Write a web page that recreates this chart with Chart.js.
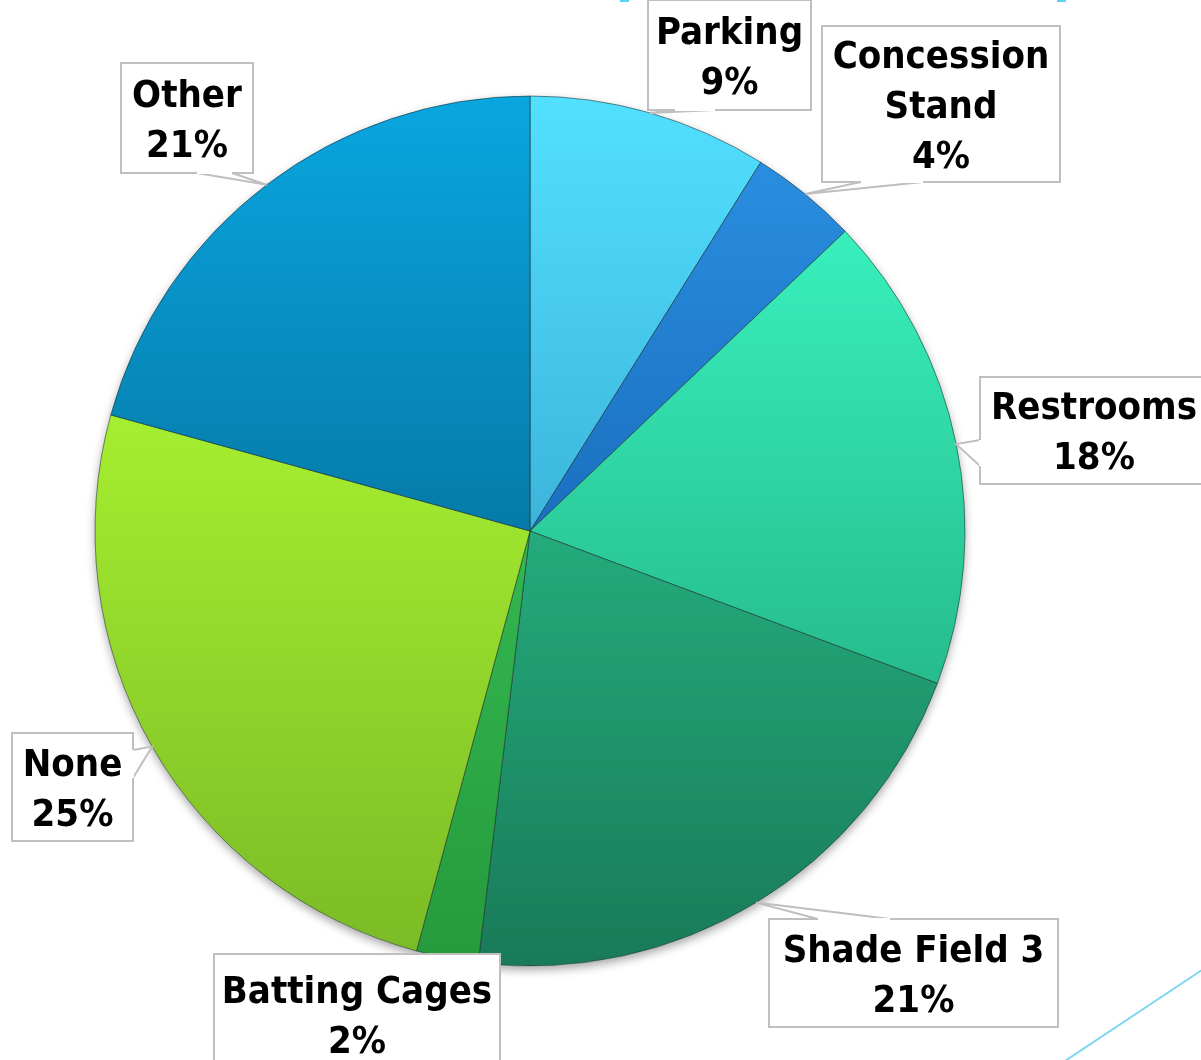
<!DOCTYPE html>
<html>
<head>
<meta charset="utf-8">
<script src="https://cdn.jsdelivr.net/npm/chart.js@4.4.1/dist/chart.umd.min.js"></script>
<style>
  html, body { margin: 0; padding: 0; background: #fff; }
  #wrap { width: 1201px; height: 1060px; position: relative; }
</style>
</head>
<body>
<div id="wrap"><canvas id="pieChart" width="1201" height="1060"></canvas></div>
<script>
// datos (porcentaje de respuestas)
const categories = ['Parking', 'Concession Stand', 'Restrooms', 'Shade Field 3', 'Batting Cages', 'None', 'Other'];
const shares = [8.9, 4.0, 17.8, 21.2, 2.3, 25.1, 20.7];

// colores claro (arriba) / oscuro (abajo) de cada porción
const topColors = ['#52e0ff', '#2a8ee0', '#38f0bc', '#24ab7c', '#34b850', '#a6ee30', '#0aa6e0'];
const bottomColors = ['#3cb4dc', '#1a6fbf', '#26bc8c', '#197a58', '#259a3c', '#7bbb26', '#057aa8'];

// cajas de etiquetas: [x, y, w, h], y la base del globo
const labelBoxes = [
    { box: [648, 0, 163, 110], base: [[675, 110], [715, 110]] },
    { box: [822, 26, 238, 156], base: [[861, 182], [923, 182]] },
    { box: [980, 377, 228, 107], base: [[980, 440], [980, 466]] },
    { box: [769, 919, 289, 108], base: [[818, 919], [890, 919]] },
    { box: [214, 954, 286, 120], base: null },
    { box: [12, 733, 121, 108], base: [[133, 750], [133, 778]] },
    { box: [121, 63, 132, 110], base: [[197, 173], [232, 173]] }
];
const labelLines = [
    ['Parking'], ['Concession', 'Stand'], ['Restrooms'], ['Shade Field 3'], ['Batting Cages'], ['None'], ['Other']
];

function sliceGradient(context) {
    const chart = context.chart;
    const area = chart.chartArea;
    if (!area) return topColors[context.dataIndex];
    const i = context.dataIndex;
    const total = shares.reduce((a, b) => a + b, 0);
    const start = shares.slice(0, i).reduce((a, b) => a + b, 0) / total;
    const end = start + shares[i] / total;
    const cx = (area.left + area.right) / 2;
    const cy = (area.top + area.bottom) / 2;
    const r = 435;
    // rango vertical de la porción
    let ys = [cy];
    for (let k = 0; k <= 40; k++) {
        const a = (start + (end - start) * k / 40) * Math.PI * 2;
        ys.push(cy - Math.cos(a) * r);
    }
    const y0 = Math.min(...ys), y1 = Math.max(...ys);
    const g = chart.ctx.createLinearGradient(0, y0, 0, y1 + 1);
    g.addColorStop(0, topColors[i]);
    g.addColorStop(1, bottomColors[i]);
    return g;
}

const calloutPlugin = {
    id: 'callouts',
    beforeDatasetsDraw(chart) {
        const ctx = chart.ctx;
        ctx.save();
        ctx.shadowColor = 'rgba(0,0,0,0.35)';
        ctx.shadowBlur = 10;
        ctx.shadowOffsetY = 4;
        const arc = chart.getDatasetMeta(0).data[0];
        ctx.beginPath();
        ctx.arc(arc.x, arc.y, arc.outerRadius, 0, Math.PI * 2);
        ctx.fillStyle = '#ffffff';
        ctx.fill();
        ctx.restore();
    },
    afterDatasetsDraw(chart) {
        const ctx = chart.ctx;
        const arcs = chart.getDatasetMeta(0).data;
        const total = shares.reduce((a, b) => a + b, 0);

        // decoración del fondo
        ctx.save();
        ctx.strokeStyle = '#7fd6f2';
        ctx.lineWidth = 2;
        ctx.beginPath();
        ctx.moveTo(1065, 1061);
        ctx.lineTo(1202, 970);
        ctx.stroke();
        ctx.fillStyle = '#5ad2f6';
        ctx.fillRect(620, 0, 9, 2);
        ctx.fillRect(1057, 0, 9, 2);
        ctx.restore();

        arcs.forEach((arc, i) => {
            const p = arc.getProps(['x', 'y', 'startAngle', 'endAngle', 'outerRadius'], true);
            const mid = (p.startAngle + p.endAngle) / 2;
            const tip = [p.x + Math.cos(mid) * p.outerRadius, p.y + Math.sin(mid) * p.outerRadius];
            const lb = labelBoxes[i];
            const [bx, by, bw, bh] = lb.box;

            ctx.save();
            ctx.fillStyle = '#ffffff';
            ctx.strokeStyle = '#bfbfbf';
            ctx.lineWidth = 2;
            ctx.fillRect(bx, by, bw, bh);
            ctx.strokeRect(bx, by, bw, bh);
            // globo
            if (lb.base) {
                ctx.beginPath();
                ctx.moveTo(lb.base[0][0], lb.base[0][1]);
                ctx.lineTo(tip[0], tip[1]);
                ctx.lineTo(lb.base[1][0], lb.base[1][1]);
                ctx.fill();
                ctx.stroke();
                ctx.beginPath();
                ctx.moveTo(lb.base[0][0], lb.base[0][1]);
                ctx.lineTo(lb.base[1][0], lb.base[1][1]);
                ctx.strokeStyle = '#ffffff';
                ctx.lineWidth = 2;
                ctx.stroke();
            }

            // texto
            const lines = labelLines[i].concat([Math.round(shares[i] / total * 100) + '%']);
            ctx.fillStyle = '#000000';
            ctx.font = 'bold 38px "DejaVu Sans Condensed", "DejaVu Sans", sans-serif';
            ctx.textAlign = 'center';
            ctx.textBaseline = 'middle';
            const lh = 50;
            const cy = by + bh / 2 + 4 - (lines.length - 1) * lh / 2;
            lines.forEach((t, k) => ctx.fillText(t, bx + bw / 2, cy + k * lh));
            ctx.restore();
        });
    }
};

new Chart(document.getElementById('pieChart'), {
    type: 'pie',
    data: {
        labels: categories,
        datasets: [{
            data: shares,
            backgroundColor: sliceGradient,
            borderColor: 'rgba(20,40,40,0.55)',
            borderWidth: 1
        }]
    },
    options: {
        responsive: false,
        animation: false,
        radius: 435,
        layout: { padding: { left: 0, right: 141, top: 2, bottom: 0 } },
        plugins: {
            legend: { display: false },
            tooltip: { enabled: false }
        }
    },
    plugins: [calloutPlugin]
});
</script>
</body>
</html>
